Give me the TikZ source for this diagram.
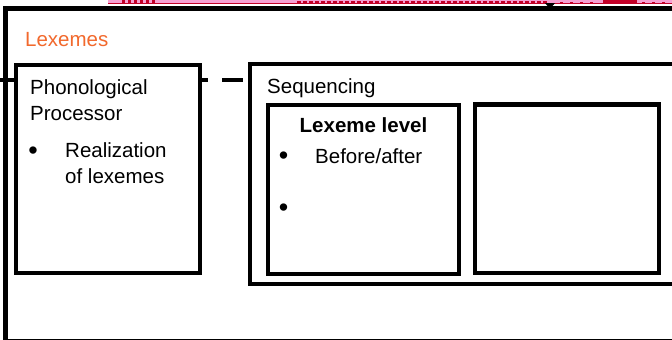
\documentclass[tikz,border=0pt]{standalone}
\usepackage{fontspec}
\setmainfont{Liberation Sans}
\definecolor{lexorange}{RGB}{242,105,45}
\definecolor{bandpink}{RGB}{245,160,210}
\definecolor{bandred}{RGB}{195,0,40}
\begin{document}
\begin{tikzpicture}[x=1pt,y=-1pt,
  box/.style={draw=black,line width=4.3pt,fill=white,outer sep=0pt,inner sep=0pt},
  txt/.style={anchor=base west,inner sep=0pt,font=\fontsize{20.5}{24}\selectfont},
  bul/.style={anchor=center,inner sep=0pt,font=\fontsize{27}{30}\selectfont},
  dashcon/.style={draw=black,line width=4.5pt,dash pattern=on 21pt off 14pt}]
\useasboundingbox (0,0) rectangle (672,340);
\fill[white] (0,0) rectangle (672,340);
% remnant band at top
\fill[bandpink] (108,0) rectangle (672,4);
\draw[bandred,line width=0.8pt] (108,3.6) -- (672,3.6);
\foreach \x in {122,128,134,140,146,152} {\fill[bandred] (\x,0) rectangle ++(3,3.5);}
\foreach \x in {297,303,...,543} {\fill[bandred] (\x,0.5) rectangle ++(3.5,3);}
\foreach \x in {560,570,580,590,642,652,662} {\fill[bandred] (\x,2) rectangle ++(3,1.5);}
\fill[bandred] (603,0) rectangle (637,3);
% outer box
\node[box,fill=none,minimum width=694.5pt,minimum height=332.5pt,anchor=north west] (outer) at (5.5,8.5) {};
\coordinate (tip) at (550,9);
\fill[black] (545,3) -- (555,3) -- (tip) -- cycle;
% boxes
\node[box,minimum width=184pt,minimum height=208pt,anchor=north west] (phon) at (16,65) {};
\node[box,minimum width=450pt,minimum height=220pt,anchor=north west] (seq) at (250,64) {};
\node[box,minimum width=191pt,minimum height=169pt,anchor=north west] (lex) at (268,105) {};
\node[box,minimum width=184pt,minimum height=168.5pt,anchor=north west] (empty) at (475,104.5) {};
% connectors
\coordinate (lin) at (0,80);
\draw[dashcon] (lin) -- (phon.west |- lin);
\draw[dashcon,dash phase=13pt] (phon.east |- lin) -- (seq.west |- lin);
% texts
\node[txt,text=lexorange] (tlex) at (25,46) {Lexemes};
\node[txt] (tphon1) at (30,94) {Phonological};
\node[txt] (tphon2) at (30,120) {Processor};
\node[bul] (tb1) at (33,153.5) {•};
\node[txt] (treal) at (65,157) {Realization};
\node[txt] (tof) at (65,183) {of lexemes};
\node[txt] (tseq) at (267,93) {Sequencing};
\node[txt,anchor=base,font=\fontsize{20.5}{24}\selectfont\bfseries] (tll) at (363.5,132) {Lexeme level};
\node[bul] (tb2) at (283.5,158.5) {•};
\node[txt] (tba) at (315,163) {Before/after};
\node[bul] (tb3) at (283.5,210.5) {•};
\end{tikzpicture}
\end{document}
